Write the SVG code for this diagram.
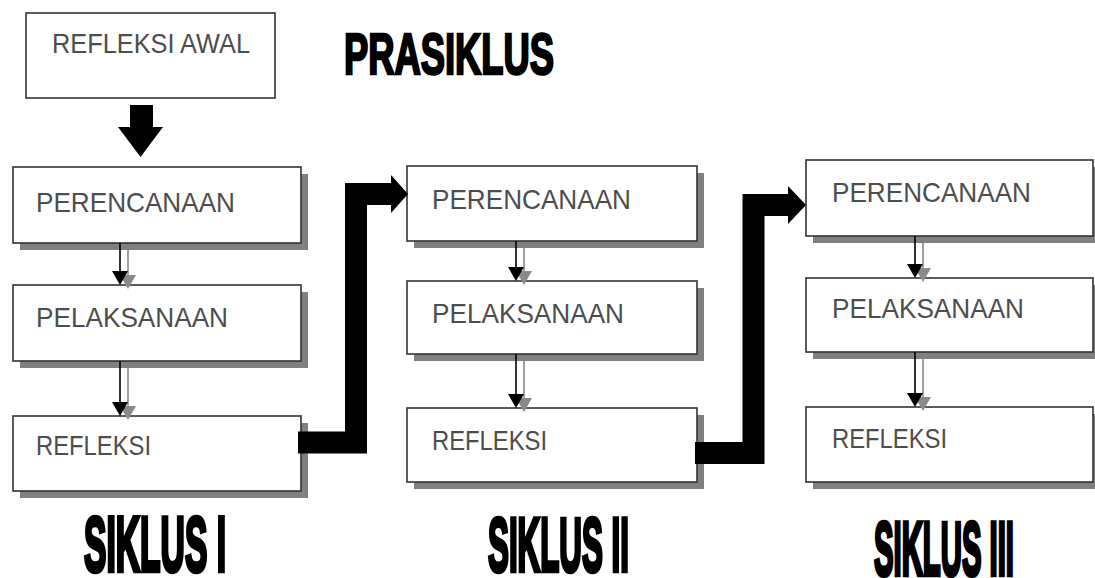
<svg xmlns="http://www.w3.org/2000/svg" width="1095" height="578" viewBox="0 0 1095 578">
  <style>
    .box { fill: #ffffff; stroke: #333333; stroke-width: 1.6; }
    .shadow { fill: #808080; }
    .lbl { font-family: "Liberation Sans", Arial, sans-serif; font-size: 28px; fill: #4d4d4d; }
    .title { font-family: "Liberation Sans", Arial, sans-serif; font-weight: bold; fill: #000; stroke: #000; }
    .thin { stroke: #000; stroke-width: 1.6; fill: none; }
    .thinsh { stroke: #8a8a8a; stroke-width: 1.6; fill: none; }
    .bar { stroke: #000; stroke-width: 22; fill: none; stroke-linejoin: miter; }
  </style>
  <rect width="1095" height="578" fill="#ffffff"/>

  <!-- titles -->
  <g id="title-prasiklus">
    <text class="title" transform="translate(344,73.7) scale(1,1.57)" font-size="36" stroke-width="1.6" textLength="210" lengthAdjust="spacingAndGlyphs">PRASIKLUS</text>
  </g>
  <g id="title-siklus1">
    <text class="title" transform="translate(84,570.7) scale(1,2.28)" font-size="34" stroke-width="2" textLength="142" lengthAdjust="spacingAndGlyphs">SIKLUS I</text>
  </g>
  <g id="title-siklus2">
    <text class="title" transform="translate(488,570.8) scale(1,2.24)" font-size="34" stroke-width="2" textLength="141" lengthAdjust="spacingAndGlyphs">SIKLUS II</text>
  </g>
  <g id="title-siklus3">
    <text class="title" transform="translate(874,574.8) scale(1,2.24)" font-size="34" stroke-width="2" textLength="140" lengthAdjust="spacingAndGlyphs">SIKLUS III</text>
  </g>

  <!-- nodes -->
  <g id="refleksi-awal">
    <rect class="box" x="26" y="13" width="249" height="85"/>
    <text class="lbl" x="52" y="53" textLength="198" lengthAdjust="spacingAndGlyphs">REFLEKSI AWAL</text>
  </g>

  <g id="s1-perencanaan">
    <rect class="shadow" x="20" y="174" width="288" height="76"/>
    <rect class="box" x="13" y="167" width="288" height="76"/>
    <text class="lbl" x="36" y="212" textLength="199" lengthAdjust="spacingAndGlyphs">PERENCANAAN</text>
  </g>
  <g id="s1-pelaksanaan">
    <rect class="shadow" x="20" y="292" width="288" height="76"/>
    <rect class="box" x="13" y="285" width="288" height="76"/>
    <text class="lbl" x="36" y="327" textLength="192" lengthAdjust="spacingAndGlyphs">PELAKSANAAN</text>
  </g>
  <g id="s1-refleksi">
    <rect class="shadow" x="20" y="423" width="288" height="75"/>
    <rect class="box" x="13" y="416" width="288" height="75"/>
    <text class="lbl" x="36" y="455" textLength="115" lengthAdjust="spacingAndGlyphs">REFLEKSI</text>
  </g>

  <g id="s2-perencanaan">
    <rect class="shadow" x="414" y="173" width="290" height="75"/>
    <rect class="box" x="407" y="166" width="290" height="75"/>
    <text class="lbl" x="432" y="209" textLength="199" lengthAdjust="spacingAndGlyphs">PERENCANAAN</text>
  </g>
  <g id="s2-pelaksanaan">
    <rect class="shadow" x="414" y="288" width="290" height="73"/>
    <rect class="box" x="407" y="281" width="290" height="73"/>
    <text class="lbl" x="432" y="323" textLength="192" lengthAdjust="spacingAndGlyphs">PELAKSANAAN</text>
  </g>
  <g id="s2-refleksi">
    <rect class="shadow" x="414" y="415" width="290" height="74"/>
    <rect class="box" x="407" y="408" width="290" height="74"/>
    <text class="lbl" x="432" y="450" textLength="115" lengthAdjust="spacingAndGlyphs">REFLEKSI</text>
  </g>

  <g id="s3-perencanaan">
    <rect class="shadow" x="813" y="167" width="287" height="76"/>
    <rect class="box" x="806" y="160" width="287" height="76"/>
    <text class="lbl" x="832" y="202" textLength="199" lengthAdjust="spacingAndGlyphs">PERENCANAAN</text>
  </g>
  <g id="s3-pelaksanaan">
    <rect class="shadow" x="813" y="285" width="287" height="74"/>
    <rect class="box" x="806" y="278" width="287" height="74"/>
    <text class="lbl" x="832" y="318" textLength="192" lengthAdjust="spacingAndGlyphs">PELAKSANAAN</text>
  </g>
  <g id="s3-refleksi">
    <rect class="shadow" x="813" y="414" width="287" height="75"/>
    <rect class="box" x="806" y="407" width="287" height="75"/>
    <text class="lbl" x="832" y="448" textLength="115" lengthAdjust="spacingAndGlyphs">REFLEKSI</text>
  </g>

  <!-- connectors -->
  <g id="connectors">
    <!-- big down arrow from Refleksi Awal -->
    <polygon points="130,105 153,105 153,127 163,127 140.5,157 118,127 130,127" fill="#000"/>

    <!-- small arrows cycle I -->
    <g>
      <line class="thinsh" x1="128" y1="250" x2="128" y2="276"/>
      <polygon points="120,275 136,275 128,289" fill="#8a8a8a"/>
      <line class="thin" x1="120" y1="243" x2="120" y2="272"/>
      <polygon points="112,271 128,271 120,285" fill="#000"/>

      <line class="thinsh" x1="128" y1="368" x2="128" y2="407"/>
      <polygon points="120,406 136,406 128,420" fill="#8a8a8a"/>
      <line class="thin" x1="120" y1="361" x2="120" y2="403"/>
      <polygon points="112,402 128,402 120,416" fill="#000"/>
    </g>
    <!-- small arrows cycle II -->
    <g>
      <line class="thinsh" x1="524" y1="248" x2="524" y2="272"/>
      <polygon points="516,271 532,271 524,285" fill="#8a8a8a"/>
      <line class="thin" x1="516" y1="241" x2="516" y2="268"/>
      <polygon points="508,267 524,267 516,281" fill="#000"/>

      <line class="thinsh" x1="524" y1="361" x2="524" y2="399"/>
      <polygon points="516,398 532,398 524,412" fill="#8a8a8a"/>
      <line class="thin" x1="516" y1="354" x2="516" y2="395"/>
      <polygon points="508,394 524,394 516,408" fill="#000"/>
    </g>
    <!-- small arrows cycle III -->
    <g>
      <line class="thinsh" x1="923" y1="243" x2="923" y2="269"/>
      <polygon points="915,268 931,268 923,282" fill="#8a8a8a"/>
      <line class="thin" x1="915" y1="236" x2="915" y2="265"/>
      <polygon points="907,264 923,264 915,278" fill="#000"/>

      <line class="thinsh" x1="923" y1="359" x2="923" y2="398"/>
      <polygon points="915,397 931,397 923,411" fill="#8a8a8a"/>
      <line class="thin" x1="915" y1="352" x2="915" y2="394"/>
      <polygon points="907,393 923,393 915,407" fill="#000"/>
    </g>

    <!-- big elbow connector I -> II -->
    <path class="bar" d="M298 442.5 H356 V194 H392"/>
    <polygon points="391,175 408,194 391,213" fill="#000"/>

    <!-- big elbow connector II -> III -->
    <path class="bar" d="M695 453 H753.5 V205 H789"/>
    <polygon points="788,186 806,205 788,224" fill="#000"/>
  </g>
</svg>
